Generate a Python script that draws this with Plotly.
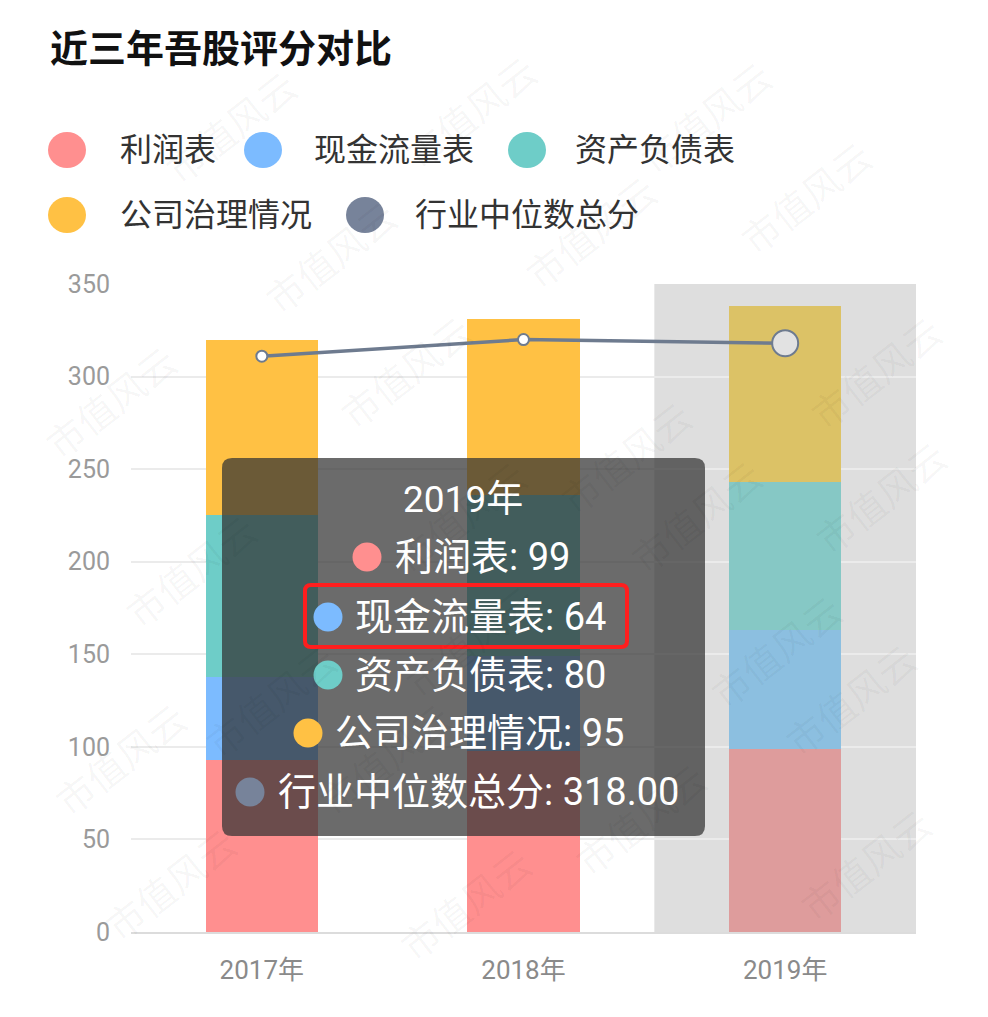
import plotly.graph_objects as go

# ---------------- data ----------------
years = ["2017年", "2018年", "2019年"]
series_names = ["利润表", "现金流量表", "资产负债表", "公司治理情况"]
profit = [93, 98, 99]
cashflow = [45, 51, 64]
balance = [87, 87, 80]
governance = [95, 95, 95]
line_name = "行业中位数总分"
industry_median = [311, 320, 318]
y_ticks = [0, 50, 100, 150, 200, 250, 300, 350]
title_text = "近三年吾股评分对比"
hover_idx = 2  # 2019年 highlighted

colors = ["#FF8F8F", "#7CBBFF", "#6ECDC8", "#FFC144"]
muted_colors = ["#DE9C9C", "#8CBFE0", "#86C8C5", "#DCC266"]
line_color = "#6E7B8F"
legend_line_color = "#77839A"

W, H = 988, 1017
L, R, T, B = 131, 916, 284, 932  # plot area in pixels

FONT = "Roboto, 'Noto Sans CJK SC', 'Noto Sans', sans-serif"


def px(xp):
    return (xp - L) / (R - L)


def py(yp):
    return (B - yp) / (B - T)


fig = go.Figure()
values = [profit, cashflow, balance, governance]
for name, vals, col, mcol in zip(series_names, values, colors, muted_colors):
    bar_cols = [mcol if i == hover_idx else col for i in range(len(years))]
    fig.add_trace(go.Bar(
        x=years, y=vals, name=name, marker=dict(color=bar_cols, line=dict(width=0)),
        width=0.43, hoverinfo="skip", showlegend=False,
    ))

fig.add_trace(go.Scatter(
    x=years, y=industry_median, name=line_name, mode="lines+markers",
    line=dict(color=line_color, width=3.5),
    marker=dict(color=["white", "white", "#E2E2E2"], size=[11, 11, 26], opacity=1,
                line=dict(color=line_color, width=2)),
    hoverinfo="skip", showlegend=False,
))

shapes = []
annotations = []

# hover shadow band over 2019 (beneath grid and bars)
shapes.append(dict(type="rect", xref="x", yref="y", x0=hover_idx - 0.5, x1=hover_idx + 0.5,
                   y0=0, y1=350, fillcolor="#DEDEDE", line=dict(width=0), layer="below"))


def rounded_path(x0p, y0p, x1p, y1p, r):
    # pixel coords -> paper path with rounded corners
    rx = r / (R - L)
    ry = r / (B - T)
    X0, X1 = px(x0p), px(x1p)
    Yt, Yb = py(y0p), py(y1p)
    return (f"M {X0+rx},{Yt} L {X1-rx},{Yt} Q {X1},{Yt} {X1},{Yt-ry} "
            f"L {X1},{Yb+ry} Q {X1},{Yb} {X1-rx},{Yb} L {X0+rx},{Yb} "
            f"Q {X0},{Yb} {X0},{Yb+ry} L {X0},{Yt-ry} Q {X0},{Yt} {X0+rx},{Yt} Z")


# tooltip box
shapes.append(dict(type="path", xref="paper", yref="paper", path=rounded_path(222, 458, 705, 836, 10),
                   fillcolor="rgba(50,50,50,0.72)", line=dict(width=0), layer="above"))

tip_font = dict(family=FONT, size=38, color="white")
annotations.append(dict(x=px(463), y=py(499), xref="paper", yref="paper", text=years[hover_idx],
                        showarrow=False, xanchor="center", yanchor="middle",
                        font=dict(family=FONT, size=37, color="white")))

row_y = [557, 617, 675, 733, 792]
row_circle_x = [367, 328, 328, 308, 250]
row_text_x = [393, 353, 353, 333, 276]
row_labels = [f"{n}: {v[hover_idx]}" for n, v in zip(series_names, values)]
row_labels.append(f"{line_name}: {industry_median[hover_idx]:.2f}")
row_colors = colors + [legend_line_color]
for yy, cx, tx, lab, col in zip(row_y, row_circle_x, row_text_x, row_labels, row_colors):
    shapes.append(dict(type="circle", xref="paper", yref="paper", xsizemode="pixel", ysizemode="pixel",
                       xanchor=px(cx), yanchor=py(yy), x0=-14.5, x1=14.5, y0=-14.5, y1=14.5,
                       fillcolor=col, line=dict(width=0), layer="above"))
    annotations.append(dict(x=px(tx), y=py(yy), xref="paper", yref="paper", text=lab, showarrow=False,
                            xanchor="left", yanchor="middle", font=tip_font))

# red highlight box around cash-flow row
shapes.append(dict(type="path", xref="paper", yref="paper", path=rounded_path(305, 585, 627, 647, 6),
                   fillcolor="rgba(0,0,0,0)", line=dict(color="#FF1E1E", width=4), layer="above"))

# title
annotations.append(dict(x=px(48), y=py(45), xref="paper", yref="paper", text=f"<b>{title_text}</b>",
                        showarrow=False, xanchor="left", yanchor="middle",
                        font=dict(family="'Noto Sans CJK SC', sans-serif", size=38, color="#111111")))

# legend (manual, circles)
legend_items = [
    (series_names[0], colors[0], 67, 118, 150),
    (series_names[1], colors[1], 263, 312, 150),
    (series_names[2], colors[2], 527, 573, 150),
    (series_names[3], colors[3], 67, 118, 215),
    (line_name, legend_line_color, 365, 413, 215),
]
for name, col, cx, tx, yy in legend_items:
    shapes.append(dict(type="circle", xref="paper", yref="paper", xsizemode="pixel", ysizemode="pixel",
                       xanchor=px(cx), yanchor=py(yy), x0=-19, x1=19, y0=-18, y1=18,
                       fillcolor=col, line=dict(width=0)))
    annotations.append(dict(x=px(tx), y=py(yy), xref="paper", yref="paper", text=name, showarrow=False,
                            xanchor="left", yanchor="middle",
                            font=dict(family=FONT, size=32, color="#333333")))

# watermarks
wm_pos = [(150, 55), (470, 40), (785, 45), (885, 125), (590, 160), (250, 185),
          (325, 300), (705, 385), (30, 330), (955, 300), (380, 445), (775, 515),
          (110, 570), (960, 425), (855, 650), (470, 640), (190, 700), (930, 770),
          (305, 830), (640, 890), (40, 830), (945, 935), (385, 975), (90, 955)]
for (wx, wy) in wm_pos:
    annotations.append(dict(x=px(wx), y=py(wy), xref="paper", yref="paper", text="市值风云",
                            showarrow=False, textangle=-38,
                            font=dict(family="'Noto Sans CJK SC', sans-serif", size=38,
                                      color="rgba(0,0,0,0.04)")))

fig.update_layout(
    width=W, height=H,
    margin=dict(l=L, r=W - R, t=T, b=H - B, pad=0),
    paper_bgcolor="white", plot_bgcolor="rgba(0,0,0,0)",
    barmode="stack", bargap=0.57,
    showlegend=False,
    shapes=shapes, annotations=annotations,
    font=dict(family=FONT),
    xaxis=dict(
        type="category", showgrid=False, showline=True, linecolor="#DCDCDC", linewidth=2,
        ticks="", tickfont=dict(family=FONT, size=26, color="#8A8A8A"), ticklabelstandoff=14,
        fixedrange=True,
    ),
    yaxis=dict(
        range=[0, 350], tickvals=y_ticks, showgrid=True, gridcolor="#EBEBEB", gridwidth=2,
        zeroline=False, showline=False, ticks="",
        tickfont=dict(family=FONT, size=25, color="#9A9A9A"), ticklabelstandoff=20,
        fixedrange=True,
    ),
)

fig.write_html("out.html", config={"displayModeBar": False})
